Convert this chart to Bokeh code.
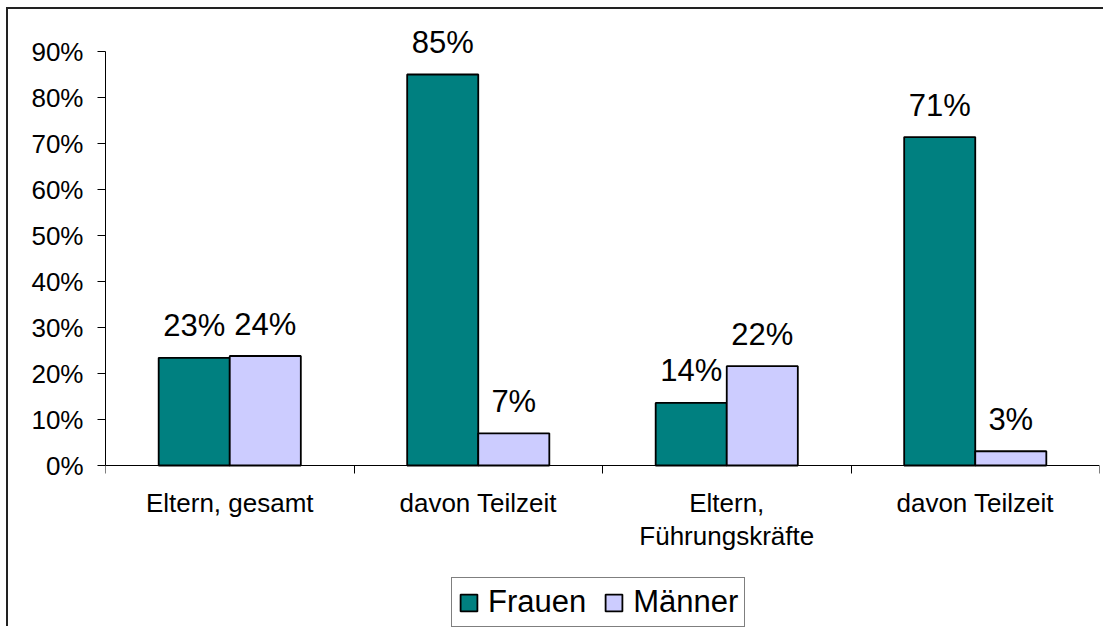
from bokeh.plotting import figure
from bokeh.models import (Range1d, FixedTicker, NumeralTickFormatter, Legend, LegendItem,
                          ColumnDataSource)
from bokeh.core.properties import value
from bokeh.embed import file_html
from bokeh.resources import INLINE

categories = ["Eltern, gesamt", "davon Teilzeit", "Eltern,\nFührungskräfte", "davon Teilzeit"]
frauen = [23.4, 85.0, 13.6, 71.4]
maenner = [23.8, 7.0, 21.6, 3.1]
series_names = ["Frauen", "Männer"]
y_ticks = [0, 10, 20, 30, 40, 50, 60, 70, 80, 90]

FONT = "Liberation Sans"
TEAL = "#008080"
LAV = "#CCCCFF"

W, H = 1097, 619
frame_left, frame_top, frame_right = 97, 11, 1091
zero_px = 456            # canvas y of the 0% line
px_per_unit = 460.0      # pixels per 100%
y_max = (zero_px - frame_top) / px_per_unit
y_min = -(H - zero_px) / px_per_unit

p = figure(width=W, height=H, x_range=Range1d(-0.5, len(categories) - 0.5),
           y_range=Range1d(y_min, y_max), output_backend="svg", toolbar_location=None,
           min_border_left=frame_left, min_border_right=W - frame_right,
           min_border_top=frame_top, min_border_bottom=0)
p.outline_line_color = None
p.xgrid.visible = False
p.ygrid.visible = False
p.background_fill_color = "white"
p.border_fill_color = "white"
p.styles = {"border-left": "2px solid #222222", "border-top": "2px solid #222222",
            "margin-left": "6px", "margin-top": "7px"}

idx = list(range(len(categories)))
bw = 0.286
src = ColumnDataSource(dict(
    xf=[i - bw / 2 for i in idx], xm=[i + bw / 2 for i in idx],
    f=[v / 100 for v in frauen], m=[v / 100 for v in maenner],
    lf=[f"{round(v)}%" for v in frauen], lm=[f"{round(v)}%" for v in maenner],
))

r1 = p.vbar(x="xf", top="f", width=bw, bottom=0, source=src, fill_color=TEAL,
            line_color="black", line_width=1.8)
r2 = p.vbar(x="xm", top="m", width=bw, bottom=0, source=src, fill_color=LAV,
            line_color="black", line_width=1.8)

for xcol, ycol, lcol in (("xf", "f", "lf"), ("xm", "m", "lm")):
    p.text(x=xcol, y=ycol, text=lcol, source=src, text_align="center",
           text_baseline="alphabetic", y_offset=-32, text_font=value(FONT),
           text_font_size="31px", text_color="black")

# y axis
yax = p.yaxis[0]
yax.ticker = FixedTicker(ticks=[t / 100 for t in y_ticks], minor_ticks=[])
yax.formatter = NumeralTickFormatter(format="0%")
yax.bounds = (0, y_ticks[-1] / 100)
yax.major_tick_out = 8
yax.major_tick_in = 0
yax.major_label_standoff = 14
yax.major_label_text_font = FONT
yax.major_label_text_font_size = "26px"
yax.major_label_text_color = "black"
yax.axis_line_color = "black"
yax.major_tick_line_color = "black"

# x axis, drawn at the 0% line
xax = p.xaxis[0]
xax.fixed_location = 0
xax.ticker = FixedTicker(ticks=idx, minor_ticks=[i - 0.5 for i in range(len(categories) + 1)])
xax.major_label_overrides = {i: c for i, c in zip(idx, categories)}
xax.major_tick_out = 0
xax.major_tick_in = 0
xax.major_tick_line_color = None
xax.minor_tick_out = 8
xax.minor_tick_in = 0
xax.minor_tick_line_color = "black"
xax.axis_line_color = "black"
xax.major_label_standoff = 14
xax.major_label_text_font = FONT
xax.major_label_text_font_size = "26px"
xax.major_label_text_color = "black"
xax.major_label_text_line_height = 1.1

legend = Legend(items=[LegendItem(label=series_names[0], renderers=[r1]),
                       LegendItem(label=series_names[1], renderers=[r2])],
                orientation="horizontal", location=(346, 1),
                label_text_font=FONT, label_text_font_size="31px",
                label_text_color="black",
                glyph_width=21, glyph_height=21, label_standoff=9, spacing=17,
                padding=6, margin=0, border_line_color="black", border_line_width=1,
                background_fill_color="white", background_fill_alpha=1)
p.add_layout(legend, "center")

open("out.html", "w").write(file_html(p, INLINE))
